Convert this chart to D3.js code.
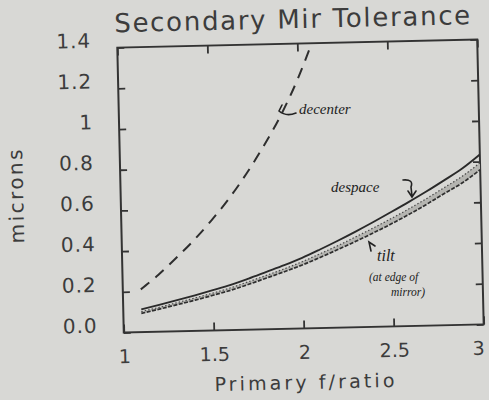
<!DOCTYPE html>
<html>
<head>
<meta charset="utf-8">
<script src="https://cdn.jsdelivr.net/npm/d3@7"></script>
<style>
  html, body { margin: 0; padding: 0; background: #d8d8d5; }
  svg { display: block; }
  text { font-family: "DejaVu Sans", sans-serif; fill: #3c3c3c; }
  .note { font-family: "Liberation Serif", serif; font-style: italic; fill: #222; }
</style>
</head>
<body>
<svg id="chart" width="489" height="400"></svg>
<script>
// Primary f/ratio sample points for the despace / tilt curves
const fRatio = [1.1, 1.2, 1.3, 1.4, 1.5, 1.6, 1.7, 1.8, 1.9, 2.0,
                2.1, 2.2, 2.3, 2.4, 2.5, 2.6, 2.7, 2.8, 2.9, 3.0];
// despace tolerance (microns), solid line
const despace = [0.112, 0.132, 0.153, 0.175, 0.198, 0.222, 0.251, 0.282, 0.313, 0.347,
                 0.386, 0.427, 0.470, 0.515, 0.562, 0.610, 0.660, 0.713, 0.768, 0.835];
// tilt tolerance at edge of mirror (microns), upper and lower bound of the band
const tiltUpper = [0.101, 0.120, 0.141, 0.162, 0.184, 0.208, 0.236, 0.265, 0.295, 0.328,
                   0.365, 0.403, 0.444, 0.486, 0.530, 0.576, 0.625, 0.677, 0.730, 0.794];
const tiltLower = [0.092, 0.111, 0.131, 0.151, 0.173, 0.196, 0.223, 0.252, 0.281, 0.312,
                   0.347, 0.384, 0.422, 0.462, 0.504, 0.549, 0.597, 0.648, 0.698, 0.760];
// decenter tolerance (microns), dashed line
const decenterF = [1.1, 1.2, 1.3, 1.4, 1.5, 1.6, 1.7, 1.8, 1.9, 2.0, 2.08];
const decenter  = [0.21, 0.28, 0.36, 0.445, 0.54, 0.645, 0.765, 0.90, 1.05, 1.23, 1.40];

const xTicks = [1, 1.5, 2, 2.5, 3];
const xTickLabels = ["1", "1.5", "2", "2.5", "3"];
const yTicks = [0, 0.2, 0.4, 0.6, 0.8, 1.0, 1.2, 1.4];
const yTickLabels = ["0.0", "0.2", "0.4", "0.6", "0.8", "1", "1.2", "1.4"];

const svg = d3.select("#chart");
const frame = { left: 120.5, right: 480.5, top: 43.5, bottom: 328.5 };
const cx = (frame.left + frame.right) / 2, cy = 186;

// the whole sheet sits at a slight angle
const g = svg.append("g").attr("transform", `rotate(-1.3, ${cx}, ${cy})`);

const x = d3.scaleLinear().domain([1, 3]).range([frame.left, frame.right]);
const y = d3.scaleLinear().domain([0, 1.4]).range([frame.bottom, frame.top]);

// title
g.append("text")
  .attr("x", 296).attr("y", 28)
  .attr("text-anchor", "middle")
  .attr("font-size", 26)
  .attr("textLength", 356).attr("lengthAdjust", "spacing")
  .text("Secondary Mir Tolerance");

// axes with inward ticks
const ink = "#333";
const styleAxis = sel => {
  sel.select(".domain").remove();
  sel.selectAll(".tick line").attr("stroke", ink).attr("stroke-width", 1.8);
};

g.append("g")
  .attr("transform", `translate(0,${frame.bottom})`)
  .call(d3.axisBottom(x).tickValues(xTicks).tickSize(-8).tickPadding(17)
        .tickFormat((d, i) => xTickLabels[i]))
  .call(styleAxis)
  .call(a => a.selectAll("text").attr("font-size", 19).attr("fill", "#3c3c3c")
        .attr("font-family", "DejaVu Sans"))
  // last label sits right at the sheet edge
  .call(a => a.selectAll(".tick").filter(d => d === 3).select("text")
        .attr("text-anchor", "end").attr("x", 0));

g.append("g")
  .attr("transform", `translate(0,${frame.top})`)
  .call(d3.axisTop(x).tickValues(xTicks).tickSize(-8).tickFormat(""))
  .call(styleAxis);

g.append("g")
  .attr("transform", `translate(${frame.left},0)`)
  .call(d3.axisLeft(y).tickValues(yTicks).tickSize(-7).tickPadding(26)
        .tickFormat((d, i) => yTickLabels[i]))
  .call(styleAxis)
  .call(a => a.selectAll("text").attr("font-size", 20).attr("dy", "-0.05em")
        .attr("letter-spacing", 1).attr("fill", "#3c3c3c")
        .attr("font-family", "DejaVu Sans"));

g.append("g")
  .attr("transform", `translate(${frame.right},0)`)
  .call(d3.axisRight(y).tickValues(yTicks).tickSize(-7).tickFormat(""))
  .call(styleAxis);

// frame
g.append("rect")
  .attr("x", frame.left).attr("y", frame.top)
  .attr("width", frame.right - frame.left).attr("height", frame.bottom - frame.top)
  .attr("fill", "none").attr("stroke", ink).attr("stroke-width", 2);

// axis titles
g.append("text")
  .attr("x", 300).attr("y", 389)
  .attr("text-anchor", "middle").attr("font-size", 19)
  .attr("textLength", 180).attr("lengthAdjust", "spacing")
  .text("Primary f/ratio");

g.append("text")
  .attr("transform", `translate(23,190) rotate(-90)`)
  .attr("text-anchor", "middle").attr("font-size", 20)
  .attr("textLength", 94).attr("lengthAdjust", "spacing")
  .text("microns");

// curves
g.append("clipPath").attr("id", "plot-clip")
  .append("rect")
  .attr("x", frame.left).attr("y", frame.top)
  .attr("width", frame.right - frame.left).attr("height", frame.bottom - frame.top);

const plot = g.append("g").attr("clip-path", "url(#plot-clip)");
const line = d3.line().x(d => x(d[0])).y(d => y(d[1])).curve(d3.curveMonotoneX);

// stippled tilt band
plot.append("path")
  .datum(fRatio.map((f, i) => [f, tiltUpper[i], tiltLower[i]]))
  .attr("d", d3.area().x(d => x(d[0])).y0(d => y(d[2])).y1(d => y(d[1])).curve(d3.curveMonotoneX))
  .attr("fill", "#b5b5b1");

plot.append("path")
  .datum(fRatio.map((f, i) => [f, tiltLower[i]]))
  .attr("d", line)
  .attr("fill", "none").attr("stroke", "#2e2e2e").attr("stroke-width", 1.7)
  .attr("stroke-dasharray", "4,1.5");

plot.append("path")
  .datum(fRatio.map((f, i) => [f, tiltUpper[i]]))
  .attr("d", line)
  .attr("fill", "none").attr("stroke", "#4a4a4a").attr("stroke-width", 1.2)
  .attr("stroke-dasharray", "1.5,2");

plot.append("path")
  .datum(fRatio.map((f, i) => [f, despace[i]]))
  .attr("d", line)
  .attr("fill", "none").attr("stroke", "#2a2a2a").attr("stroke-width", 1.9);

plot.append("path")
  .datum(decenterF.map((f, i) => [f, decenter[i]]))
  .attr("d", line)
  .attr("fill", "none").attr("stroke", "#2e2e2e").attr("stroke-width", 2)
  .attr("stroke-dasharray", "11,8");

// hand-written notes with their pointers
const notes = svg.append("g");
const pen = { fill: "none", stroke: "#222", "stroke-width": 1.6, "stroke-linecap": "round" };
const drawPen = (d) => {
  const p = notes.append("path").attr("d", d);
  Object.entries(pen).forEach(([k, v]) => p.attr(k, v));
};

drawPen("M282,105 L279,111 Q286,117 296,113");
notes.append("text").attr("class", "note").attr("x", 299).attr("y", 114)
  .attr("font-size", 15).text("decenter");

notes.append("text").attr("class", "note").attr("x", 331).attr("y", 192)
  .attr("font-size", 15).text("despace");
drawPen("M403,180 Q414,179 411,187 L412,196 M408,191 L412,197 L416,191");

drawPen("M371,251 L369,242 L375,246");
notes.append("text").attr("class", "note").attr("x", 377).attr("y", 261)
  .attr("font-size", 16).text("tilt");
notes.append("text").attr("class", "note").attr("x", 369).attr("y", 281)
  .attr("font-size", 11.5).text("(at edge of");
notes.append("text").attr("class", "note").attr("x", 391).attr("y", 296)
  .attr("font-size", 11.5).text("mirror)");
</script>
</body>
</html>
